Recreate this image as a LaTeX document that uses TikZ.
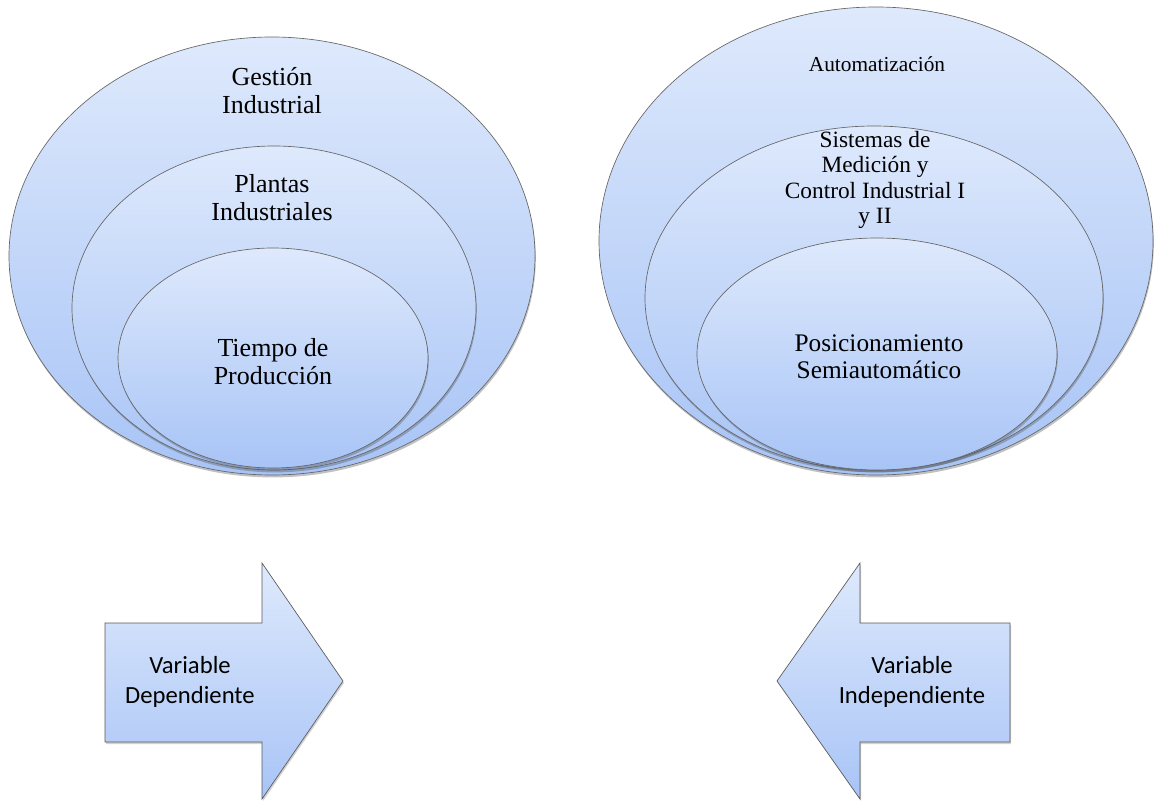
\documentclass[tikz,border=0pt]{standalone}
\usepackage{fontspec}
\setmainfont{Liberation Serif}
\newfontfamily\calib{Carlito}
\usetikzlibrary{shapes.geometric,shadows}
\begin{document}
\begin{tikzpicture}[x=0.75pt,y=-0.75pt,
  bubble/.style={ellipse, draw=gray!80!black, line width=0.5pt, inner sep=0pt,
    top color={rgb,255:red,222;green,233;blue,252},
    bottom color={rgb,255:red,168;green,196;blue,246},
    drop shadow={shadow xshift=0.6pt, shadow yshift=-1.8pt, fill=black!70, opacity=0.35}},
  arrowshape/.style={draw=gray!70!black, line width=0.5pt,
    top color={rgb,255:red,222;green,233;blue,252},
    bottom color={rgb,255:red,168;green,196;blue,246},
    drop shadow={shadow xshift=0.8pt, shadow yshift=-1.5pt, fill=black!60, opacity=0.3}},
  lbl/.style={align=center, font=\fontsize{19.5}{21}\selectfont, inner sep=0pt},
  albl/.style={align=center, font=\calib\fontsize{18.5}{22.5}\selectfont, inner sep=0pt}]
\useasboundingbox (0,0) rectangle (1154,802);

% left group
\node[bubble, minimum width=394.5pt, minimum height=328.5pt] (lo) at (272,256) {};
\node[bubble, minimum width=303pt, minimum height=243pt] (lm) at (274,308) {};
\node[bubble, minimum width=232.5pt, minimum height=165pt] (li) at (273,358) {};
\node[lbl] (t1) at (272,91) {Gestión\\Industrial};
\node[lbl] (t2) at (272,198) {Plantas\\Industriales};
\node[lbl] (t3) at (273,362) {Tiempo de\\Producción};

% right group
\node[bubble, minimum width=415.5pt, minimum height=351pt] (ro) at (876,241) {};
\node[bubble, minimum width=343.5pt, minimum height=258pt] (rm) at (874,298) {};
\node[bubble, minimum width=270pt, minimum height=174pt] (ri) at (877,354) {};
\node[lbl, font=\fontsize{16}{19}\selectfont] (t4) at (877,64) {Automatización};
\node[lbl, font=\fontsize{17.5}{19.2}\selectfont] (t5) at (875,180) {Sistemas de\\Medición y\\Control Industrial I\\y II};
\node[lbl, font=\fontsize{19}{20.5}\selectfont] (t6) at (879,357) {Posicionamiento\\Semiautomático};

% arrows
\path[arrowshape] (105,623) -- (262,623) -- (262,563) -- (343,681) -- (262,799) -- (262,742) -- (105,742) -- cycle;
\node[albl] (a1) at (190,682) {Variable\\Dependiente};
\path[arrowshape] (1010,623) -- (860,623) -- (860,563) -- (777,681) -- (860,799) -- (860,742) -- (1010,742) -- cycle;
\node[albl] (a2) at (912,682) {Variable\\Independiente};
\end{tikzpicture}
\end{document}
